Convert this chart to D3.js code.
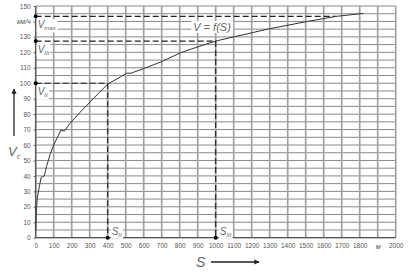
<!DOCTYPE html>
<html>
<head>
<meta charset="utf-8">
<script src="https://cdn.jsdelivr.net/npm/d3@7"></script>
<style>
  body { margin: 0; background: #fff; }
  svg { display: block; }
  .tick text { font-family: "Liberation Sans", Arial, sans-serif; font-size: 6.5px; fill: #555; }
  .lbl { font-family: "Liberation Sans", Arial, sans-serif; font-style: italic; fill: #666; }
</style>
</head>
<body>
<svg id="chart" width="411" height="275"></svg>
<script>
// distance S (m) vs speed V (km/h)
const distance = [0, 3, 8, 20, 30, 48, 60, 80, 100, 125, 140, 160, 190, 245, 320, 400, 470, 505, 530, 600, 700, 810, 900, 1000, 1100, 1300, 1500, 1670, 1820];
const speed = [5, 15, 25, 33, 39, 40, 46, 54, 60, 66, 69.5, 69, 74, 81, 90, 99.5, 104, 106.5, 106.5, 109.5, 114, 120, 123.5, 127.3, 130, 135.3, 139.8, 143.3, 145.2];

const xTicks = d3.range(0, 2001, 100);
const yTicks = d3.range(0, 151, 10);
const yGrid = d3.range(0, 151, 5);

// reference marks: name, S, V
const markNames = ["max", "III", "II"];
const markS = [1670, 1000, 400];
const markV = [143.3, 127.3, 100];

const svg = d3.select("#chart");
const x = d3.scaleLinear().domain([0, 2000]).range([35.7, 395.7]);
const y = d3.scaleLinear().domain([0, 150]).range([237.7, 6]);

// grid
svg.append("g").selectAll("line").data(yGrid).join("line")
  .attr("x1", x(0)).attr("x2", x(2000))
  .attr("y1", d => y(d)).attr("y2", d => y(d))
  .attr("stroke", "#7a7a7a").attr("stroke-width", 0.9);

svg.append("g").selectAll("line").data(xTicks).join("line")
  .attr("x1", d => x(d)).attr("x2", d => x(d))
  .attr("y1", y(0)).attr("y2", y(150))
  .attr("stroke", "#a0a0a0").attr("stroke-width", 1.7);

// axes (labels only)
const xAxis = d3.axisBottom(x).tickValues(xTicks).tickSize(0).tickPadding(6)
  .tickFormat(d => d === 1900 ? "м" : d);
const gx = svg.append("g").attr("transform", `translate(0,${y(0)})`).call(xAxis);
gx.select(".domain").remove();
gx.selectAll(".tick text").filter(d => d === 1900).style("font-style", "italic").style("font-size", "7px");

const yAxis = d3.axisLeft(y).tickValues(yTicks).tickSize(2).tickPadding(3)
  .tickFormat(d => d === 140 ? "км/ч" : d);
const gy = svg.append("g").attr("transform", `translate(${x(0)},0)`).call(yAxis);
gy.select(".domain").remove();
gy.selectAll(".tick line").attr("stroke", "#555");
gy.selectAll(".tick text").filter(d => d === 140).style("font-style", "italic").style("font-size", "7px");

// axis border lines
svg.append("line").attr("x1", x(0)).attr("x2", x(0)).attr("y1", y(0)).attr("y2", y(150))
  .attr("stroke", "#555").attr("stroke-width", 1.2);
svg.append("line").attr("x1", x(0)).attr("x2", x(2000)).attr("y1", y(0)).attr("y2", y(0))
  .attr("stroke", "#555").attr("stroke-width", 1.2);

// dashed guide lines
const dash = svg.append("g").attr("stroke", "#222").attr("stroke-width", 1.2)
  .attr("stroke-dasharray", "6,3").attr("fill", "none");
markNames.forEach((n, i) => {
  dash.append("line").attr("x1", x(0)).attr("x2", x(markS[i]))
    .attr("y1", y(markV[i])).attr("y2", y(markV[i]));
  if (n !== "max") {
    dash.append("line").attr("x1", x(markS[i])).attr("x2", x(markS[i]))
      .attr("y1", y(markV[i])).attr("y2", y(0));
  }
});

// curve
const pts = distance.map((s, i) => [s, speed[i]]);
svg.append("path").datum(pts)
  .attr("fill", "none").attr("stroke", "#333").attr("stroke-width", 1)
  .attr("d", d3.line().x(d => x(d[0])).y(d => y(d[1])));

// dots on axes
const dots = svg.append("g").attr("fill", "#000");
markNames.forEach((n, i) => {
  dots.append("circle").attr("cx", x(0)).attr("cy", y(markV[i])).attr("r", 2);
  if (n !== "max") dots.append("circle").attr("cx", x(markS[i])).attr("cy", y(0)).attr("r", 2);
});

// labels with white boxes
function subLabel(px, py, main, sub, fs) {
  const g = svg.append("g");
  const bg = g.append("rect").attr("fill", "#fff");
  const t = g.append("text").attr("class", "lbl").attr("x", px).attr("y", py)
    .style("font-size", fs + "px");
  t.append("tspan").text(main);
  t.append("tspan").attr("dy", 2).style("font-size", (fs * 0.6) + "px").text(sub);
  const bb = t.node().getBBox();
  bg.attr("x", bb.x - 1).attr("y", bb.y).attr("width", bb.width + 2).attr("height", bb.height + 1);
}
markNames.forEach((n, i) => {
  subLabel(x(0) + 2, y(markV[i]) + 12, "V", n, 10);
});
subLabel(x(400) + 4, y(0) - 3, "S", "II", 10);
subLabel(x(1000) + 4, y(0) - 3, "S", "III", 10);

// V = f(S)
{
  const g = svg.append("g");
  const bg = g.append("rect").attr("fill", "#fff");
  const t = g.append("text").attr("class", "lbl").attr("x", 212).attr("y", 31)
    .attr("text-anchor", "middle").style("font-size", "11px").text("V = f(S)");
  const bb = t.node().getBBox();
  bg.attr("x", bb.x - 2).attr("y", bb.y).attr("width", bb.width + 4).attr("height", bb.height);
}

// axis titles with arrows
svg.append("defs").append("marker").attr("id", "arr")
  .attr("viewBox", "0 0 10 10").attr("refX", 9).attr("refY", 5)
  .attr("markerWidth", 5).attr("markerHeight", 4).attr("orient", "auto")
  .append("path").attr("d", "M0,0L10,5L0,10z").attr("fill", "#222");

svg.append("line").attr("x1", 14).attr("x2", 14).attr("y1", 136).attr("y2", 89)
  .attr("stroke", "#222").attr("stroke-width", 1.3).attr("marker-end", "url(#arr)");
const vt = svg.append("text").attr("class", "lbl").attr("x", 8).attr("y", 156).style("font-size", "13px");
vt.append("tspan").text("V");
vt.append("tspan").attr("dy", 3).style("font-size", "7px").text("с");

svg.append("text").attr("class", "lbl").attr("x", 196).attr("y", 267).style("font-size", "14px").text("S");
svg.append("line").attr("x1", 211).attr("x2", 259).attr("y1", 262).attr("y2", 262)
  .attr("stroke", "#222").attr("stroke-width", 1.3).attr("marker-end", "url(#arr)");
</script>
</body>
</html>
